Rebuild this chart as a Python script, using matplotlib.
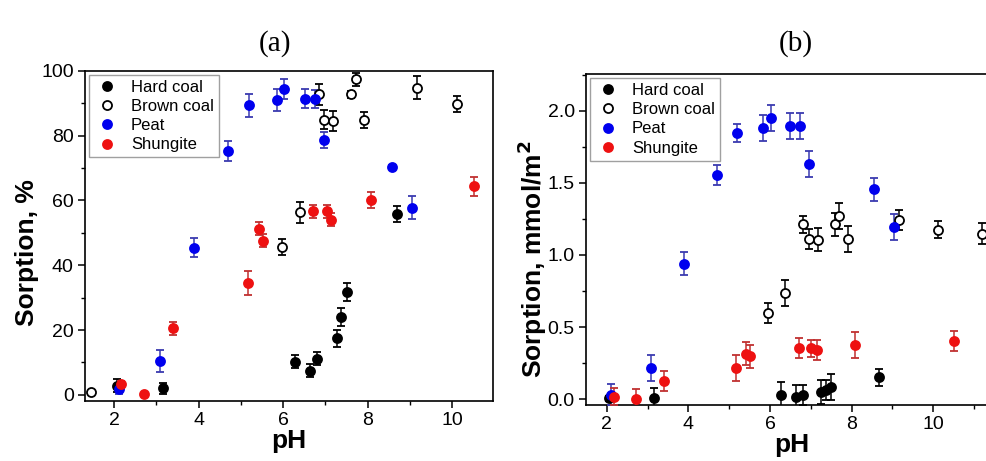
import matplotlib
matplotlib.use("Agg")
import matplotlib.pyplot as plt
from matplotlib.lines import Line2D
from matplotlib.ticker import MultipleLocator, FormatStrFormatter

plt.rcParams['font.family'] = ['Liberation Sans', 'DejaVu Sans']

# ---------- Panel (a): Sorption, % ----------
a_hard_x = [2.06, 3.15, 6.28, 6.64, 6.81, 7.28, 7.37, 7.51, 8.70]
a_hard_y = [2.8, 2.0, 10.2, 7.4, 11.1, 17.4, 24.0, 31.8, 55.9]
a_hard_e = [2.0, 1.8, 2.0, 2.0, 2.0, 2.5, 2.8, 2.8, 2.5]

a_brown_x = [1.46, 5.97, 6.40, 6.85, 6.96, 7.18, 7.60, 7.72, 7.91, 9.18, 10.12]
a_brown_y = [0.8, 45.5, 56.3, 92.7, 84.9, 84.5, 92.7, 97.4, 84.9, 94.8, 89.8]
a_brown_e = [0.4, 2.5, 3.2, 3.2, 3.0, 3.0, 1.0, 2.0, 2.5, 3.5, 2.5]

a_peat_x = [2.11, 3.08, 3.89, 4.69, 5.19, 5.85, 6.03, 6.51, 6.75, 6.96, 8.57, 9.06]
a_peat_y = [1.7, 10.5, 45.4, 75.2, 89.3, 91.0, 94.4, 91.4, 91.4, 78.6, 70.4, 57.8]
a_peat_e = [1.5, 3.3, 3.0, 3.0, 3.5, 3.5, 3.0, 3.0, 2.8, 2.5, 0.5, 3.5]

a_shun_x = [2.17, 2.70, 3.40, 5.16, 5.42, 5.52, 6.71, 7.03, 7.14, 8.09, 10.53]
a_shun_y = [3.2, 0.2, 20.5, 34.5, 51.3, 47.5, 56.6, 56.6, 54.1, 60.0, 64.3]
a_shun_e = [1.0, 0.5, 2.1, 3.6, 2.0, 2.0, 2.0, 2.0, 2.0, 2.5, 2.8]

# ---------- Panel (b): Sorption, mmol/m2 ----------
b_hard_x = [2.06, 3.15, 6.28, 6.63, 6.81, 7.25, 7.36, 7.50, 8.67]
b_hard_y = [0.005, 0.005, 0.028, 0.016, 0.028, 0.050, 0.065, 0.085, 0.152]
b_hard_e = [0.02, 0.07, 0.09, 0.08, 0.07, 0.08, 0.07, 0.09, 0.06]

b_brown_x = [5.96, 6.36, 6.82, 6.96, 7.17, 7.59, 7.69, 7.90, 9.17, 10.11, 11.20]
b_brown_y = [0.596, 0.734, 1.212, 1.111, 1.104, 1.212, 1.272, 1.109, 1.240, 1.176, 1.148]
b_brown_e = [0.07, 0.09, 0.06, 0.07, 0.08, 0.08, 0.09, 0.09, 0.07, 0.06, 0.07]

b_peat_x = [2.11, 3.08, 3.88, 4.69, 5.19, 5.84, 6.02, 6.50, 6.74, 6.95, 8.55, 9.04]
b_peat_y = [0.032, 0.217, 0.940, 1.554, 1.845, 1.882, 1.951, 1.891, 1.891, 1.628, 1.455, 1.194]
b_peat_e = [0.07, 0.09, 0.08, 0.07, 0.06, 0.09, 0.09, 0.09, 0.09, 0.09, 0.08, 0.09]

b_shun_x = [2.17, 2.71, 3.40, 5.16, 5.41, 5.51, 6.70, 7.00, 7.16, 8.08, 10.51]
b_shun_y = [0.018, 0.000, 0.129, 0.215, 0.316, 0.298, 0.353, 0.353, 0.342, 0.374, 0.404]
b_shun_e = [0.06, 0.07, 0.07, 0.09, 0.08, 0.08, 0.07, 0.06, 0.07, 0.09, 0.07]

labels = ['Hard coal', 'Brown coal', 'Peat', 'Shungite']
titles = ['(a)', '(b)']
ylabels = ['Sorption, %', 'Sorption, mmol/m$\\mathbf{^2}$']

styles = [
    dict(mfc='black', mec='black', ecolor='black'),
    dict(mfc='white', mec='black', ecolor='black'),
    dict(mfc='#0000ee', mec='#0000ee', ecolor='#3a3ab0'),
    dict(mfc='#ee1111', mec='#ee1111', ecolor='#c03030'),
]

fig = plt.figure(figsize=(9.87, 4.61), dpi=100)
axA = fig.add_axes([0.0861, 0.1308, 0.4134, 0.7158])
axB = fig.add_axes([0.5937, 0.1215, 0.4180, 0.7180])

dataA = [(a_hard_x, a_hard_y, a_hard_e), (a_brown_x, a_brown_y, a_brown_e),
         (a_peat_x, a_peat_y, a_peat_e), (a_shun_x, a_shun_y, a_shun_e)]
dataB = [(b_hard_x, b_hard_y, b_hard_e), (b_brown_x, b_brown_y, b_brown_e),
         (b_peat_x, b_peat_y, b_peat_e), (b_shun_x, b_shun_y, b_shun_e)]

for ax, data in [(axA, dataA), (axB, dataB)]:
    for (x, y, e), st in zip(data, styles):
        ax.errorbar(x, y, yerr=e, fmt='o', ms=6.5, mew=1.3,
                    mfc=st['mfc'], mec=st['mec'], ecolor=st['ecolor'],
                    elinewidth=1.1, capsize=3, capthick=1.1, zorder=3)

axA.set_xlim(1.31, 10.97)
axA.set_ylim(-1.8, 100)
axA.xaxis.set_major_locator(MultipleLocator(2))
axA.xaxis.set_minor_locator(MultipleLocator(1))
axA.yaxis.set_major_locator(MultipleLocator(20))
axA.yaxis.set_minor_locator(MultipleLocator(10))

axB.set_xlim(1.49, 11.6)
axB.set_ylim(-0.04, 2.254)
axB.xaxis.set_major_locator(MultipleLocator(2))
axB.xaxis.set_minor_locator(MultipleLocator(1))
axB.yaxis.set_major_locator(MultipleLocator(0.5))
axB.yaxis.set_minor_locator(MultipleLocator(0.25))
axB.yaxis.set_major_formatter(FormatStrFormatter('%.1f'))

for ax, yl, lx, ly in [(axA, ylabels[0], -0.113, 0.448), (axB, ylabels[1], -0.089, 0.44)]:
    for sp in ax.spines.values():
        sp.set_linewidth(1.2)
    ax.tick_params(which='major', direction='out', length=5, width=1.1, labelsize=14, pad=3)
    ax.tick_params(which='minor', direction='out', length=3, width=1.0)
    ax.set_xlabel('pH', fontsize=19, fontweight='bold', labelpad=0)
    ax.set_ylabel(yl, fontsize=19, fontweight='bold')
    ax.yaxis.set_label_coords(lx, ly)
    handles = [Line2D([], [], ls='none', marker='o', ms=6.5, mew=1.3,
                      mfc=st['mfc'], mec=st['mec']) for st in styles]
    leg = ax.legend(handles, labels, loc='upper left', fontsize=12, frameon=True,
                    fancybox=False, edgecolor='#888888', borderaxespad=0.25,
                    handletextpad=0.6, labelspacing=0.25, borderpad=0.3,
                    handlelength=1.6)
    leg.get_frame().set_linewidth(1.0)

fig.text(0.279, 0.905, titles[0], fontsize=21, family='Liberation Serif', ha='center', va='center')
fig.text(0.806, 0.905, titles[1], fontsize=21, family='Liberation Serif', ha='center', va='center')

fig.savefig('out.png', dpi=100)
